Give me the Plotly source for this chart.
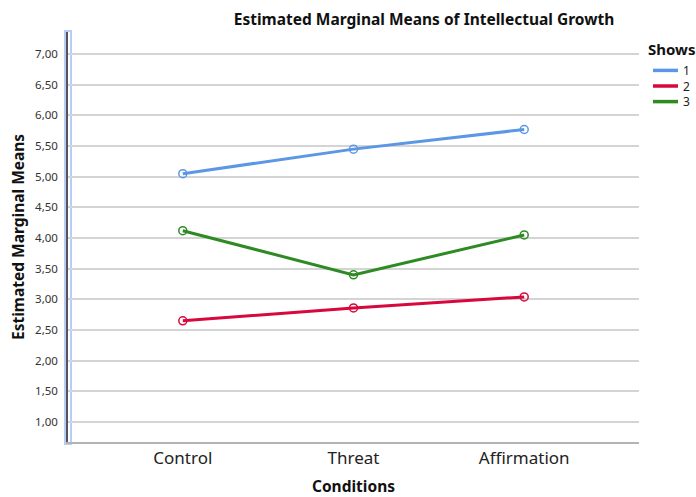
import plotly.graph_objects as go

conditions = ["Control", "Threat", "Affirmation"]
show1 = [5.05, 5.45, 5.77]
show2 = [2.65, 2.86, 3.04]
show3 = [4.12, 3.40, 4.05]
series_names = ["1", "2", "3"]
colors = ["#5B97E5", "#D9083C", "#2E8B24"]
y_ticks = [1.0, 1.5, 2.0, 2.5, 3.0, 3.5, 4.0, 4.5, 5.0, 5.5, 6.0, 6.5, 7.0]

FONT = "Noto Sans"
W, H = 696, 497
L, R, T, B = 68, 639, 32, 442
PW, PH = R - L, B - T


def px(x):  # pixel x -> paper
    return (x - L) / PW


def py(y):  # pixel y -> paper
    return (B - y) / PH


fig = go.Figure()
for name, vals, col in zip(series_names, [show1, show2, show3], colors):
    fig.add_trace(go.Scatter(
        x=conditions, y=vals, mode="lines+markers", name=name,
        line=dict(color=col, width=3),
        marker=dict(symbol="circle-open", size=8, color=col, line=dict(width=1.5)),
        showlegend=False, hoverinfo="skip"))

# blue highlight around left axis
fig.add_shape(type="rect", xref="paper", yref="paper",
              x0=px(65), x1=px(71), y0=py(444), y1=py(31),
              line=dict(color="#B8CDF5", width=2), fillcolor="rgba(0,0,0,0)", layer="below")

# manual legend
fig.add_annotation(text="<b>Shows</b>", xref="paper", yref="paper", x=px(646), y=py(49),
                   xanchor="left", yanchor="middle", showarrow=False,
                   font=dict(size=15, color="#111", family=FONT))
for i, col in enumerate(colors):
    yy = 70.4 + 15.6 * i
    fig.add_shape(type="line", xref="paper", yref="paper", x0=px(653), x1=px(678),
                  y0=py(yy), y1=py(yy), line=dict(color=col, width=3.5))
fig.add_annotation(text="<br>".join(series_names), xref="paper", yref="paper",
                   x=px(682), y=py(86), xanchor="left", yanchor="middle", align="left",
                   showarrow=False, borderpad=0,
                   font=dict(size=12, color="#222", family=FONT))

fig.update_layout(
    width=W, height=H,
    margin=dict(l=L, r=W - R, t=T, b=H - B, pad=0, autoexpand=False),
    plot_bgcolor="white", paper_bgcolor="white",
    separators=",.",
    font=dict(family=FONT, color="#222"),
    title=dict(text="<b>Estimated Marginal Means of Intellectual Growth</b>",
               xref="container", yref="container", x=424 / W, y=1 - 20 / H,
               xanchor="center", yanchor="middle",
               font=dict(size=15.5, color="#111", family=FONT)),
    xaxis=dict(type="category", range=[-0.6725, 2.6725], showgrid=False,
               showline=True, linecolor="#B4B4B4", linewidth=2, ticks="",
               tickfont=dict(size=17, color="#222", family=FONT),
               title=dict(text="<b>Conditions</b>", font=dict(size=15.5, color="#111"), standoff=16)),
    yaxis=dict(range=[0.674, 7.36], tickvals=y_ticks, tickformat=".2f",
               showgrid=True, gridcolor="#D4D4D4", gridwidth=1.5,
               showline=True, linecolor="#555", linewidth=1.5, ticks="",
               zeroline=False, ticklabelstandoff=6,
               tickfont=dict(size=11.5, color="#333", family=FONT)),
    showlegend=False,
)

fig.add_annotation(text="<b>Estimated Marginal Means</b>", textangle=-90,
                   xref="paper", yref="paper", x=px(18), y=py(237),
                   xanchor="center", yanchor="middle", showarrow=False,
                   font=dict(size=15.5, color="#111", family=FONT))

fig.write_html("out.html", config={"displayModeBar": False},
               post_script="document.body.style.margin='0';document.body.style.overflow='hidden';")
